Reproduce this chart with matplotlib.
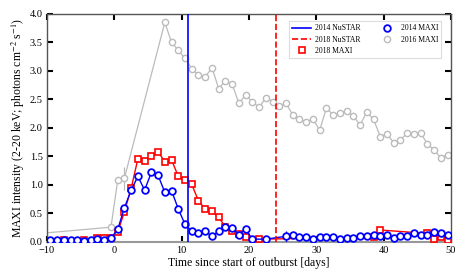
import matplotlib
matplotlib.use('Agg')
import matplotlib.pyplot as plt
import numpy as np

plt.rcParams['font.family'] = ['Liberation Serif', 'DejaVu Serif']
plt.rcParams['mathtext.fontset'] = 'stix'

# 2016 MAXI (grey)
t16 = [-12, -0.5, 0.5, 1.5,
       7.5, 8.5, 9.5, 10.5, 11.5, 12.5, 13.5, 14.5, 15.5, 16.5, 17.5, 18.5,
       19.5, 20.5, 21.5, 22.5, 23.5, 24.5, 25.5, 26.5, 27.5, 28.5, 29.5, 30.5,
       31.5, 32.5, 33.5, 34.5, 35.5, 36.5, 37.5, 38.5, 39.5, 40.5, 41.5, 42.5,
       43.5, 44.5, 45.5, 46.5, 47.5, 48.5, 49.5]
f16 = [0.14, 0.26, 1.08, 1.12,
       3.85, 3.50, 3.36, 3.22, 3.04, 2.93, 2.89, 3.06, 2.69, 2.83, 2.77, 2.43,
       2.58, 2.46, 2.36, 2.53, 2.46, 2.39, 2.43, 2.23, 2.15, 2.10, 2.16, 1.96,
       2.35, 2.23, 2.26, 2.29, 2.21, 2.05, 2.28, 2.15, 1.85, 1.89, 1.74, 1.79,
       1.91, 1.90, 1.91, 1.72, 1.61, 1.48, 1.53]
e16 = [0.0] * len(t16)
e16[3] = 0.2

# 2018 MAXI (red)
t18 = [-7.5, -4.5, -2.5, -1.5, -0.5, 0.5, 1.5, 2.5, 3.5, 4.5, 5.5, 6.5, 7.5,
       8.5, 9.5, 10.5, 11.5, 12.5, 13.5, 14.5, 15.5, 16.5, 17.5, 18.5, 19.5,
       21.5, 38.5, 39.5, 46.5, 47.5, 48.5, 49.5]
f18 = [0.04, 0.04, 0.07, 0.07, 0.07, 0.17, 0.53, 0.94, 1.46, 1.42, 1.51, 1.58,
       1.41, 1.44, 1.15, 1.09, 1.01, 0.72, 0.58, 0.54, 0.43, 0.27, 0.20, 0.14,
       0.08, 0.05, 0.08, 0.21, 0.15, 0.05, 0.08, 0.04]

# 2014 MAXI (blue)
t14 = [-9.5, -8.5, -7.5, -6.5, -5.5, -4.5, -3.5, -2.5, -1.5, -0.5,
       0.5, 1.5, 2.5, 3.5, 4.5, 5.5, 6.5, 7.5, 8.5, 9.5, 10.5, 11.5, 12.5,
       13.5, 14.5, 15.5, 16.5, 17.5, 18.5, 19.5, 20.5, 22.5, 25.5, 26.5, 27.5,
       28.5, 29.5, 30.5, 31.5, 32.5, 33.5, 34.5, 35.5, 36.5, 37.5, 38.5, 39.5,
       40.5, 41.5, 42.5, 43.5, 44.5, 45.5, 46.5, 47.5, 48.5, 49.5]
f14 = [0.03, 0.03, 0.03, 0.03, 0.03, 0.02, 0.03, 0.05, 0.04, 0.07,
       0.22, 0.60, 0.91, 1.15, 0.91, 1.22, 1.17, 0.87, 0.90, 0.58, 0.31, 0.19,
       0.16, 0.19, 0.10, 0.19, 0.27, 0.25, 0.13, 0.22, 0.05, 0.05, 0.10, 0.12,
       0.09, 0.09, 0.05, 0.08, 0.08, 0.09, 0.06, 0.07, 0.07, 0.11, 0.11, 0.12,
       0.11, 0.13, 0.07, 0.11, 0.11, 0.16, 0.13, 0.13, 0.17, 0.16, 0.13]
e14 = [0.0] * len(t14)
e14[t14.index(25.5)] = 0.1

nustar14 = 11.0
nustar18 = 24.0

fig = plt.figure(figsize=(4.63, 2.78), dpi=100)
ax = fig.add_axes([0.1015, 0.1295, 0.8725, 0.8205])

ax.errorbar(t16, f16, yerr=e16, color='#bbbbbb', lw=0.9, elinewidth=0.9,
            marker='o', ms=4.5, mfc='white', mec='#bbbbbb', mew=1.0, capsize=0, zorder=2)
ax.errorbar(t18, f18, color='red', lw=1.0, marker='s', ms=4.8, mfc='white',
            mec='red', mew=1.2, zorder=3)
ax.errorbar(t14, f14, yerr=e14, color='blue', lw=1.0, elinewidth=0.9,
            marker='o', ms=4.8, mfc='white', mec='blue', mew=1.3, capsize=0, zorder=4)

ax.axvline(nustar14, color='blue', lw=1.2, label='2014 NuSTAR', zorder=5)
ax.axvline(nustar18, color='red', lw=1.2, ls='--', label='2018 NuSTAR', zorder=5)
ax.plot([], [], ls='none', marker='s', ms=4.8, mfc='white', mec='red', mew=1.2, label='2018 MAXI')
ax.plot([], [], ls='none', marker='o', ms=4.8, mfc='white', mec='blue', mew=1.3, label='2014 MAXI')
ax.plot([], [], ls='none', marker='o', ms=4.5, mfc='white', mec='#bbbbbb', mew=1.0, label='2016 MAXI')

ax.set_xlim(-10, 50)
ax.set_ylim(0, 4)
ax.set_xticks(np.arange(-10, 51, 10))
ax.set_yticks(np.arange(0, 4.01, 0.5))
ax.set_xticklabels(['\u221210', '0', '10', '20', '30', '40', '50'])
ax.tick_params(direction='in', top=True, right=True, length=4, width=1.5,
               labelsize=7.5, pad=3)
for s in ax.spines.values():
    s.set_color('#555555')
    s.set_linewidth(1.0)
ax.spines['bottom'].set_color('#999999')
ax.spines['bottom'].set_linewidth(1.5)

ax.set_xlabel('Time since start of outburst [days]', fontsize=8.5, labelpad=1)
ax.set_ylabel('MAXI intensity (2-20 keV; photons cm$^{-2}$ s$^{-1}$)', fontsize=8.5, labelpad=2)

leg = ax.legend(loc='upper right', ncol=2, fontsize=5.5, frameon=True, fancybox=False,
                edgecolor='#dddddd', framealpha=1, handlelength=2.4, handletextpad=0.6,
                columnspacing=2.2, borderpad=0.4, labelspacing=0.45,
                bbox_to_anchor=(0.985, 0.985))
leg.get_frame().set_linewidth(0.8)

fig.savefig('out.png', dpi=100)
